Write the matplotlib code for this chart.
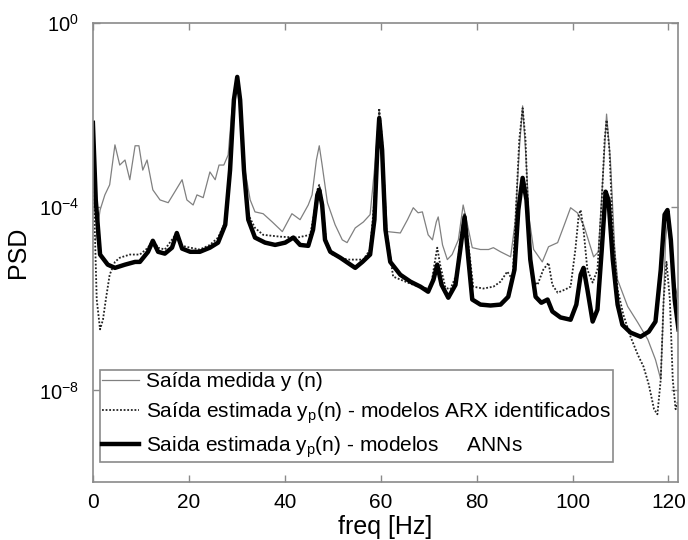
import numpy as np
import matplotlib
matplotlib.use("Agg")
import matplotlib.pyplot as plt

# ------------------------------------------------------------
# PSD values (log10 of PSD)
# ------------------------------------------------------------
ann_freq = [0, 0.6, 1.5, 3.1, 4.6, 6.7, 8.8, 9.8, 11.5, 12.5, 13.6, 15.0, 16.5, 17.5, 18.6,
            20.3, 22.3, 24.4, 26.1, 27.6, 28.6, 29.4, 30.1, 30.7, 31.5, 32.4, 33.8, 35.9,
            38.0, 40.1, 41.8, 43.2, 44.9, 45.9, 46.8, 47.2, 47.8, 48.4, 49.5, 51.6, 53.7,
            54.7, 56.2, 57.8, 58.7, 59.3, 59.7, 60.3, 61.0, 62.0, 64.1, 66.2, 68.3, 69.9,
            71.0, 71.8, 72.7, 74.1, 75.6, 76.6, 77.5, 78.3, 79.1, 80.8, 82.9, 85.0, 86.6,
            87.9, 88.7, 89.6, 90.4, 91.2, 92.3, 93.5, 94.8, 95.8, 97.5, 99.6, 100.8, 101.7,
            102.3, 103.1, 104.2, 105.2, 106.1, 106.9, 107.5, 108.4, 109.4, 110.4, 112.1,
            114.2, 115.9, 117.3, 118.4, 119.2, 119.8, 120.5, 121.3, 122.1]
ann_log = [-2.17, -3.85, -5.04, -5.26, -5.33, -5.26, -5.2, -5.2, -4.98, -4.74, -4.98, -5.02,
           -4.89, -4.57, -4.91, -4.98, -4.98, -4.89, -4.78, -4.39, -3.2, -1.67, -1.17, -1.67,
           -3.2, -4.28, -4.67, -4.78, -4.83, -4.78, -4.67, -4.83, -4.85, -4.5, -3.74, -3.63,
           -3.96, -4.72, -4.98, -5.11, -5.26, -5.33, -5.2, -5.04, -4.28, -2.76, -2.07, -2.76,
           -4.5, -5.2, -5.48, -5.63, -5.74, -5.85, -5.59, -5.26, -5.7, -5.98, -5.7, -4.93,
           -4.22, -5.15, -6.02, -6.13, -6.15, -6.13, -5.96, -5.37, -4.07, -3.37, -3.85, -5.15,
           -5.96, -6.09, -6.02, -6.28, -6.41, -6.46, -6.13, -5.48, -5.33, -5.8, -6.5, -6.24,
           -4.93, -3.67, -3.85, -5.15, -6.13, -6.57, -6.74, -6.83, -6.72, -6.5, -5.37, -4.17,
           -4.07, -4.72, -6.02, -6.67]

meas_freq = [0.6, 1.5, 2.5, 3.5, 4.6, 5.6, 6.7, 7.7, 8.8, 9.6, 10.4, 11.3, 12.5, 14.0, 15.7,
             17.1, 18.6, 19.6, 20.9, 21.7, 23.0, 24.4, 25.5, 26.3, 27.3, 28.2, 29.0, 30.1,
             30.9, 31.7, 32.8, 33.8, 35.5, 37.4, 39.5, 41.5, 43.2, 44.9, 45.7, 46.6, 47.2,
             47.8, 48.9, 50.5, 52.0, 53.0, 54.7, 56.4, 57.8, 58.9, 59.7, 60.5, 61.4, 64.1,
             65.6, 66.8, 67.8, 68.7, 69.9, 70.8, 71.6, 72.0, 72.9, 73.9, 74.9, 76.2, 77.2,
             78.1, 79.1, 80.8, 82.5, 83.5, 85.0, 87.1, 88.1, 88.9, 89.6, 90.2, 91.0, 91.9,
             93.7, 95.0, 96.9, 98.3, 99.6, 101.0, 102.3, 103.3, 104.4, 105.4, 106.3, 107.1,
             107.9, 108.8, 109.4, 111.5, 113.6, 115.7, 117.3, 118.4, 118.8, 119.4, 119.8,
             120.5, 121.3, 122.1]
meas_log = [-4.72, -4.07, -3.74, -3.52, -2.65, -3.09, -2.98, -3.41, -2.67, -2.67, -3.2, -2.98,
            -3.63, -3.85, -3.91, -3.67, -3.41, -3.85, -3.96, -3.74, -3.8, -3.24, -3.41, -3.09,
            -3.09, -2.87, -1.89, -1.24, -1.89, -3.2, -3.85, -4.11, -4.15, -4.33, -4.54, -4.15,
            -4.28, -3.96, -3.74, -2.98, -2.67, -3.09, -3.91, -4.39, -4.72, -4.78, -4.46, -4.33,
            -4.17, -2.98, -1.89, -2.98, -4.54, -4.57, -4.28, -4.02, -4.13, -4.11, -4.61, -4.72,
            -4.33, -4.22, -4.83, -5.15, -5.04, -4.72, -3.96, -4.39, -4.89, -4.93, -4.93, -4.89,
            -4.98, -5.09, -4.28, -2.76, -1.8, -2.76, -4.28, -4.93, -5.2, -4.87, -4.78, -4.39,
            -4.02, -4.13, -4.39, -4.72, -5.09, -4.98, -3.41, -1.98, -2.98, -4.93, -5.59, -6.17,
            -6.52, -6.89, -7.33, -7.76, -6.67, -4.72, -4.33, -4.93, -5.7, -6.02]

arx_freq = [0, 0.4, 0.8, 1.5, 2.1, 2.7, 3.5, 4.6, 5.6, 7.7, 9.8, 11.5, 12.5, 13.6, 15.0, 17.5,
            18.6, 20.3, 22.3, 24.4, 26.1, 27.6, 28.6, 29.4, 30.1, 30.7, 31.5, 32.4, 33.8, 35.5,
            39.0, 42.6, 45.3, 46.1, 46.8, 47.2, 47.8, 48.6, 49.9, 53.0, 56.4, 57.8, 58.7, 59.3,
            59.7, 60.3, 61.2, 62.6, 66.8, 70.4, 71.2, 71.8, 72.4, 73.5, 74.5, 75.8, 76.6, 77.5,
            78.3, 79.3, 81.4, 83.5, 85.0, 86.4, 87.5, 88.3, 88.9, 89.6, 90.2, 90.8, 91.6, 92.7,
            93.9, 95.0, 95.8, 96.9, 98.5, 99.6, 100.6, 101.3, 101.7, 102.3, 103.1, 104.2, 105.2,
            106.1, 106.7, 107.1, 107.7, 108.4, 109.4, 110.6, 112.1, 113.6, 114.8, 115.9, 117.0,
            117.7, 118.4, 119.0, 119.6, 120.3, 120.9, 121.5, 122.1]
arx_log = [-2.33, -4.5, -6.02, -6.67, -6.46, -6.02, -5.48, -5.2, -5.11, -5.04, -5.04, -4.89,
           -4.72, -4.89, -4.93, -4.57, -4.85, -4.89, -4.93, -4.83, -4.67, -4.33, -3.2, -1.67,
           -1.24, -1.67, -3.2, -4.17, -4.46, -4.61, -4.65, -4.67, -4.61, -4.17, -3.63, -3.52,
           -3.85, -4.72, -5.04, -5.15, -5.15, -4.93, -3.85, -2.54, -1.85, -2.54, -4.5, -5.52,
           -5.7, -5.8, -5.26, -4.89, -5.26, -5.76, -5.8, -5.48, -4.72, -4.13, -4.83, -5.74,
           -5.78, -5.74, -5.63, -5.41, -5.59, -3.85, -2.54, -1.85, -2.54, -4.28, -5.59, -5.7,
           -5.37, -5.22, -5.7, -5.87, -5.8, -5.74, -4.93, -4.17, -4.07, -4.5, -5.37, -5.65,
           -5.37, -3.85, -2.54, -2.11, -2.76, -4.5, -5.8, -6.35, -6.83, -7.22, -7.48, -7.87,
           -8.41, -8.52, -7.76, -6.02, -5.2, -6.02, -7.76, -8.41, -8.2]

ytick_vals = [1e0, 1e-4, 1e-8]
ytick_labels = [r"$10^{0}$", r"$10^{-4}$", r"$10^{-8}$"]
xtick_vals = [0, 20, 40, 60, 80, 100, 120]

labels = ["Saída medida y (n)",
          r"Saída estimada y$_{\mathrm{p}}$(n) - modelos ARX identificados",
          r"Saida estimada y$_{\mathrm{p}}$(n) - modelos     ANNs"]

# ------------------------------------------------------------
# Style
# ------------------------------------------------------------
plt.rcParams["font.family"] = ["Liberation Sans", "DejaVu Sans"]
plt.rcParams["mathtext.fontset"] = "custom"
plt.rcParams["mathtext.rm"] = "Liberation Sans"
plt.rcParams["mathtext.it"] = "Liberation Sans:italic"
plt.rcParams["mathtext.default"] = "regular"

axis_grey = "#8a8a8a"

fig = plt.figure(figsize=(6.88, 5.40), dpi=100)
ax = fig.add_axes([0.135, 0.107, 0.8505, 0.850])

ax.plot(meas_freq, 10 ** np.array(meas_log), color="#808080", lw=0.9, label=labels[0])
ax.plot(arx_freq, 10 ** np.array(arx_log), color="#222222", lw=1.3,
        linestyle=(0, (1, 1)), label=labels[1])
ax.plot(ann_freq, 10 ** np.array(ann_log), color="black", lw=3.2,
        solid_joinstyle="round", label=labels[2])

ax.set_yscale("log")
ax.set_xlim(0, 122)
ax.set_ylim(1e-10, 1e0)
ax.set_yticks(ytick_vals)
ax.set_yticklabels(ytick_labels)
ax.yaxis.set_minor_locator(matplotlib.ticker.NullLocator())
ax.set_xticks(xtick_vals)

for s in ax.spines.values():
    s.set_color(axis_grey)
    s.set_linewidth(1.2)
ax.tick_params(axis="both", which="both", direction="in", color=axis_grey,
               length=5, width=1, top=True, right=True, labelsize=15)
ax.tick_params(axis="y", pad=10, labelsize=14.5)
ax.tick_params(axis="x", pad=8)

ax.set_xlabel("freq [Hz]", fontsize=18, labelpad=2)
ax.set_ylabel("PSD", fontsize=18, labelpad=6)

leg = ax.legend(loc="lower left", bbox_to_anchor=(0.012, 0.044), borderaxespad=0,
                fontsize=15, fancybox=False, framealpha=1, edgecolor=axis_grey,
                handlelength=1.8, handletextpad=0.3, labelspacing=0.42,
                borderpad=0.1)
leg.get_frame().set_linewidth(1.2)

fig.savefig("out.png", dpi=100)
